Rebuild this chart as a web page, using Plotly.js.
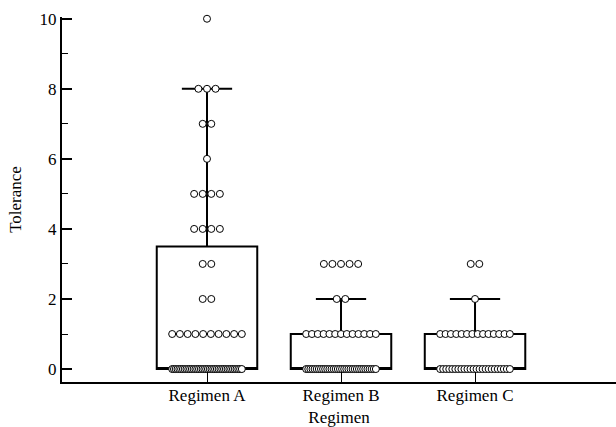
<!DOCTYPE html>
<html>
<head>
<meta charset="utf-8">
<script src="https://cdn.plot.ly/plotly-3.0.1.min.js"></script>
<style>html,body{margin:0;padding:0;background:#fff}#chart{width:616px;height:427px}</style>
</head>
<body>
<div id="chart"></div>
<script>
// Categories
const regimens = ["Regimen A", "Regimen B", "Regimen C"];
// Observed tolerance values and how many subjects had each value (read from the dot rows)
const valuesA = [0, 1, 2, 3, 4, 5, 6, 7, 8, 10];
const countsA = [40, 10, 2, 2, 4, 4, 1, 2, 3, 1];
const valuesB = [0, 1, 2, 3];
const countsB = [34, 13, 2, 5];
const valuesC = [0, 1, 2, 3];
const countsC = [24, 14, 1, 2];
// Box summaries
const q1 = [0, 0, 0];
const medians = [0, 0, 0];
const q3 = [3.5, 1, 1];
const lowerFence = [0, 0, 0];
const upperFence = [8, 2, 2];

const series = [[valuesA, countsA], [valuesB, countsB], [valuesC, countsC]];

// swarm layout (in x data units; one category = 1 unit)
const baseStep = 0.064, maxSpan = 0.52;
const traces = [];
traces.push({
  type: "box",
  x: [0, 1, 2],
  q1: q1, median: medians, q3: q3,
  lowerfence: lowerFence, upperfence: upperFence,
  width: 0.75,
  whiskerwidth: 0.5,
  boxpoints: false,
  fillcolor: "rgba(0,0,0,0)",
  line: {color: "#000", width: 2},
  hoverinfo: "skip",
  showlegend: false
});
series.forEach(function (s, i) {
  const xs = [], ys = [];
  s[0].forEach(function (v, k) {
    const n = s[1][k];
    const step = n > 1 ? Math.min(baseStep, maxSpan / (n - 1)) : 0;
    for (let j = 0; j < n; j++) {
      xs.push(i + (j - (n - 1) / 2) * step);
      ys.push(v);
    }
  });
  traces.push({
    type: "scatter", mode: "markers", x: xs, y: ys,
    marker: {size: 7, color: "#fff", line: {color: "#000", width: 1}},
    cliponaxis: false,
    showlegend: false, hoverinfo: "skip"
  });
});

const font = {family: "Liberation Serif, Times New Roman, serif", size: 17, color: "#000"};
const layout = {
  width: 616, height: 427,
  margin: {l: 62, r: 0, t: 17, b: 45},
  paper_bgcolor: "#fff", plot_bgcolor: "#fff",
  font: font,
  showlegend: false,
  xaxis: {
    range: [-1.082, 3.052],
    tickvals: [0, 1, 2], ticktext: regimens,
    ticks: "inside", ticklen: 10, tickwidth: 1, tickcolor: "#000",
    ticklabelstandoff: -3,
    showline: true, linecolor: "#000", linewidth: 2,
    showgrid: false, zeroline: false,
    title: {text: "Regimen", font: font, standoff: 9},
    tickfont: font
  },
  yaxis: {
    range: [-0.37, 10.05],
    tickvals: [0, 2, 4, 6, 8, 10],
    ticks: "inside", ticklen: 10, tickwidth: 1.5, tickcolor: "#000",
    minor: {tickvals: [1, 3, 5, 7, 9], ticks: "inside", ticklen: 6, tickcolor: "#000", tickwidth: 1},
    showline: true, linecolor: "#000", linewidth: 2,
    showgrid: false, zeroline: false,
    title: {text: "Tolerance", font: font, standoff: 14},
    tickfont: font
  }
};
Plotly.newPlot("chart", traces, layout, {displayModeBar: false, staticPlot: true});
</script>
</body>
</html>
